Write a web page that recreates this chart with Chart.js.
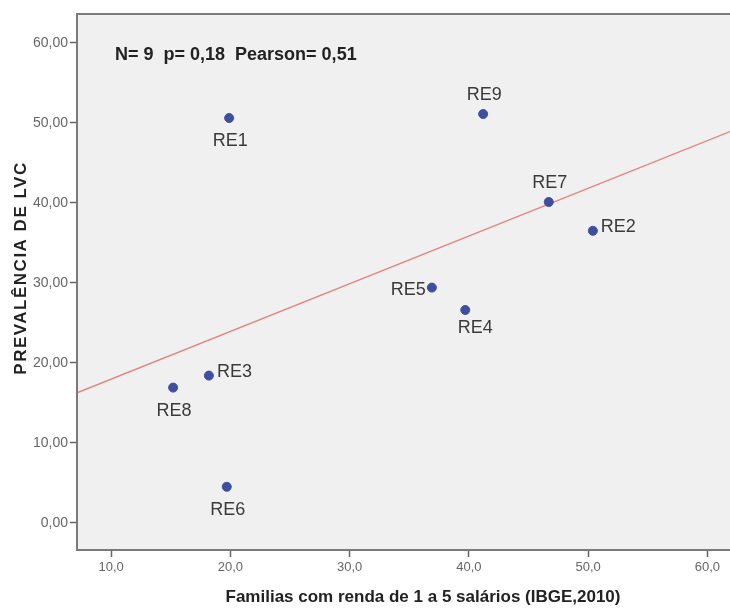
<!DOCTYPE html>
<html>
<head>
<meta charset="utf-8">
<script src="https://cdn.jsdelivr.net/npm/chart.js@4/dist/chart.umd.min.js"></script>
<style>
html,body{margin:0;padding:0;background:#fff;overflow:hidden;}
#wrap{position:relative;width:730px;height:609px;}
canvas{display:block;}
</style>
</head>
<body>
<div id="wrap"><canvas id="c" width="730" height="609"></canvas></div>
<script>
// ---- data ----
const regions = ["RE1","RE2","RE3","RE4","RE5","RE6","RE7","RE8","RE9"];
const familias = [19.9, 50.4, 18.2, 39.7, 36.9, 19.7, 46.7, 15.2, 41.2];
const prevalencia = [50.6, 36.5, 18.4, 26.6, 29.4, 4.5, 40.1, 16.9, 51.1];
const fitX = [7.14, 61.9];
const fitY = [16.25, 48.9];
const xTicks = [10, 20, 30, 40, 50, 60];
const yTicks = [0, 10, 20, 30, 40, 50, 60];
const statsText = "N= 9  p= 0,18  Pearson= 0,51";
const xTitle = "Familias com renda de 1 a 5 salários (IBGE,2010)";
const yTitle = "PREVALÊNCIA DE LVC";
// label placement (style only)
const labelPos = {RE1:"below",RE2:"right",RE3:"right",RE4:"belowR",RE5:"left",RE6:"below",RE7:"above",RE8:"below",RE9:"above"};

const points = regions.map((r,i)=>({x:familias[i], y:prevalencia[i], label:r}));
const fitLine = fitX.map((x,i)=>({x:x, y:fitY[i]}));

const deco = {
  id:'deco',
  beforeDraw(chart){
    const {ctx, chartArea:a} = chart;
    ctx.save();
    ctx.fillStyle = '#f0f0f0';
    ctx.fillRect(a.left, a.top, a.right-a.left, a.bottom-a.top);
    ctx.restore();
  },
  afterDatasetsDraw(chart){
    const {ctx, chartArea:a} = chart;
    ctx.save();
    // frame
    ctx.strokeStyle = '#7a7a7a';
    ctx.lineWidth = 2;
    ctx.beginPath();
    ctx.moveTo(a.right, a.top); ctx.lineTo(a.left, a.top);
    ctx.lineTo(a.left, a.bottom); ctx.lineTo(a.right, a.bottom);
    ctx.stroke();
    // stats
    ctx.fillStyle = '#222';
    ctx.font = 'bold 18px "Liberation Sans", Arial, sans-serif';
    ctx.textBaseline = 'middle';
    ctx.textAlign = 'left';
    ctx.fillText(statsText, 115, 55);
    // point labels
    const meta = chart.getDatasetMeta(0);
    ctx.font = '18px "Liberation Sans", Arial, sans-serif';
    ctx.fillStyle = '#3a3a3a';
    meta.data.forEach((el,i)=>{
      const lab = regions[i];
      const p = labelPos[lab];
      let x = el.x, y = el.y;
      if(p==='below'){ctx.textAlign='center'; x+=1; y+=23;}
      else if(p==='belowR'){ctx.textAlign='center'; x+=10; y+=18;}
      else if(p==='above'){ctx.textAlign='center'; x+=1; y-=19;}
      else if(p==='right'){ctx.textAlign='left'; x+=8; y-=4;}
      else if(p==='left'){ctx.textAlign='right'; x-=6; y+=2;}
      ctx.fillText(lab, x, y);
    });
    // axis titles
    ctx.fillStyle = '#222';
    ctx.font = 'bold 17px "Liberation Sans", Arial, sans-serif';
    ctx.textAlign = 'center';
    ctx.fillText(xTitle, 423, 597);
    ctx.translate(21, 268);
    ctx.rotate(-Math.PI/2);
    ctx.letterSpacing = '1.5px';
    ctx.fillText(yTitle, 0, 0);
    ctx.restore();
  }
};

new Chart(document.getElementById('c'), {
  type:'scatter',
  data:{datasets:[
    {data:points, backgroundColor:'#3f4f9e', borderColor:'#3f4f9e', pointRadius:4.5, pointHoverRadius:4.5, order:1},
    {type:'line', data:fitLine, borderColor:'rgba(225,110,110,0.85)', borderWidth:1.3, pointRadius:0, fill:false, order:2}
  ]},
  options:{
    responsive:false, animation:false,
    layout:{autoPadding:false, padding:{top:14,right:0,left:0,bottom:0}},
    plugins:{legend:{display:false}, tooltip:{enabled:false}},
    scales:{
      x:{type:'linear', min:7.14, max:61.9,
        afterBuildTicks(s){ s.ticks = xTicks.map(v=>({value:v})); },
        afterFit(s){ s.height = 59; s.paddingRight = 0; s.paddingLeft = 0; },
        border:{display:false},
        grid:{drawOnChartArea:false, drawTicks:true, tickLength:7, color:'#666', tickWidth:1.5},
        ticks:{padding:3, color:'#666', font:{family:'"Liberation Sans", Arial, sans-serif', size:13},
          callback:v=>v.toFixed(1).replace('.',','), maxRotation:0}
      },
      y:{type:'linear', min:-3.4, max:63.6,
        afterBuildTicks(s){ s.ticks = yTicks.map(v=>({value:v})); },
        afterFit(s){ s.width = 77; s.paddingTop = 0; s.paddingBottom = 0; },
        border:{display:false},
        grid:{drawOnChartArea:false, drawTicks:true, tickLength:7, color:'#666', tickWidth:1.5},
        ticks:{padding:2, color:'#666', font:{family:'"Liberation Sans", Arial, sans-serif', size:14},
          callback:v=>v.toFixed(2).replace('.',',')}
      }
    }
  },
  plugins:[deco]
});
</script>
</body>
</html>
